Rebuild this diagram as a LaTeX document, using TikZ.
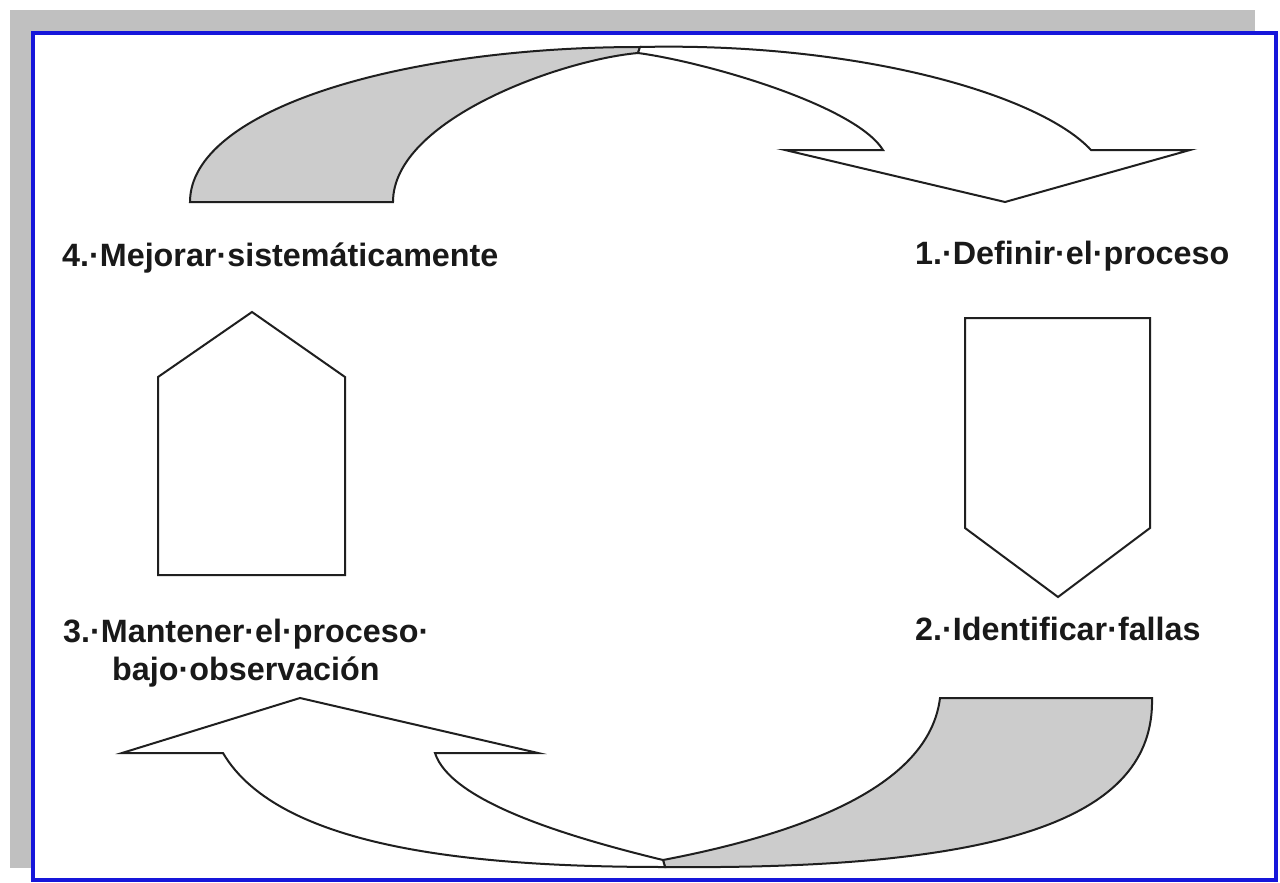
\documentclass[tikz,border=0pt]{standalone}
\usepackage{fontspec}
\setmainfont{Liberation Sans}
\definecolor{frameblue}{RGB}{22,22,218}
\definecolor{shadowgray}{RGB}{192,192,192}
\definecolor{backgray}{RGB}{204,204,204}
\begin{document}
\begin{tikzpicture}[x=1pt,y=-1pt,
  shape line/.style={draw=black!88, line width=2pt, line join=miter},
  back fill/.style={shape line, fill=backgray},
  front fill/.style={shape line, fill=white},
  label text/.style={inner sep=0pt, anchor=base west,
    font=\fontsize{32.3}{37}\selectfont\bfseries, text=black!90}]
\useasboundingbox (0,0) rectangle (1280,883);
\fill[white] (0,0) rectangle (1280,883);
% drop shadow behind the frame
\fill[shadowgray] (10,10) rectangle (1255,868);
% framed panel
\draw[fill=white, draw=frameblue, line width=4pt] (33,33) rectangle (1276,880);

% upper curved arrow (back half, then front half with head)
\draw[back fill] (190,202) -- (393,202)
  .. controls (393,120) and (560,60) .. (638,53) -- (640,47)
  .. controls (400,47) and (190,110) .. (190,202) -- cycle;
\draw[front fill] (640,47) .. controls (860,42) and (1040,95) .. (1091,150)
  -- (1190,150) -- (1005,202) -- (785,150) -- (883,150)
  .. controls (855,105) and (705,62) .. (638,53) -- cycle;

% lower curved arrow (back half, then front half with head)
\draw[back fill] (940,698) -- (1152,698)
  .. controls (1155,820) and (1000,870) .. (665,867) -- (663,860)
  .. controls (820,830) and (930,780) .. (940,698) -- cycle;
\draw[front fill] (223,753) .. controls (280,850) and (480,867) .. (665,867)
  -- (663,860) .. controls (560,835) and (450,800) .. (435,753)
  -- (538,753) -- (300,698) -- (122,753) -- cycle;

% straight arrows
\draw[front fill] (252,312) -- (345,377) -- (345,575) -- (158,575) -- (158,377) -- cycle;
\draw[front fill] (965,318) -- (1150,318) -- (1150,528) -- (1058,597) -- (965,528) -- cycle;

% step labels
\node[label text] (s4) at (62,266) {4.·Mejorar·sistemáticamente};
\node[label text] (s1) at (915,264) {1.·Definir·el·proceso};
\node[label text] (s3a) at (63,642) {3.·Mantener·el·proceso·};
\node[label text] (s3b) at (112,680) {bajo·observación};
\node[label text] (s2) at (915,640) {2.·Identificar·fallas};
\end{tikzpicture}
\end{document}
